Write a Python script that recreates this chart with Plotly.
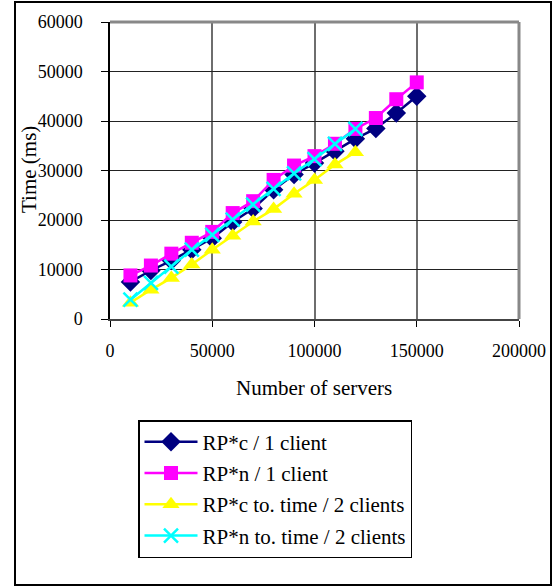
import plotly.graph_objects as go

servers = [10000, 20000, 30000, 40000, 50000, 60000, 70000, 80000, 90000, 100000,
           110000, 120000, 130000, 140000, 150000]
rpc_1 = [7500, 9800, 11800, 14000, 16300, 19600, 22300, 26100, 29200, 31500,
         33900, 36400, 38500, 41600, 45000]
rpn_1 = [8800, 10800, 13200, 15400, 17600, 21400, 23800, 28100, 31000, 32900,
         35400, 38400, 40600, 44400, 47800]
servers2 = servers[:12]
rpc_2 = [3300, 5900, 8300, 11000, 14000, 16800, 19700, 22200, 25300, 28100, 31200, 33700]
rpn_2 = [3900, 7300, 10600, 14000, 17000, 20100, 23100, 26300, 29400, 32300, 35400, 38400]

names = ["RP*c / 1 client", "RP*n / 1 client",
         "RP*c to. time / 2 clients", "RP*n to. time / 2 clients"]
x_ticks = [0, 50000, 100000, 150000, 200000]
y_ticks = [0, 10000, 20000, 30000, 40000, 50000, 60000]

FONT = "'Liberation Serif', 'Times New Roman', Times, 'DejaVu Serif', serif"

fig = go.Figure()
fig.add_trace(go.Scatter(x=servers, y=rpc_1, name=names[0], mode="lines+markers",
                         legendgroup="a",
                         line=dict(color="#000080", width=2.5),
                         marker=dict(symbol="diamond", size=15, color="#000080")))
fig.add_trace(go.Scatter(x=servers, y=rpn_1, name=names[1], mode="lines+markers",
                         legendgroup="b",
                         line=dict(color="#FF00FF", width=2.5),
                         marker=dict(symbol="square", size=14, color="#FF00FF")))
fig.add_trace(go.Scatter(x=servers2, y=rpc_2, name=names[2], mode="lines+markers",
                         legendgroup="c",
                         line=dict(color="#FFFF00", width=2.5),
                         marker=dict(symbol="triangle-up", size=15, color="#FFFF00")))
fig.add_trace(go.Scatter(x=servers2, y=rpn_2, name=names[3], mode="lines+markers",
                         legendgroup="d",
                         line=dict(color="#00FFFF", width=2.5),
                         marker=dict(symbol="x-thin", size=14, color="#00FFFF",
                                     line=dict(color="#00FFFF", width=2.5))))

L, R, T, B = 110, 39, 22, 268
W, H = 558, 587
pw = W - L - R
ph = H - T - B

def px(xp):
    return (xp - L) / pw

def py(yp):
    return (H - B - yp) / ph

fig.update_layout(
    width=W, height=H,
    margin=dict(l=L, r=R, t=T, b=B, autoexpand=False),
    paper_bgcolor="white", plot_bgcolor="white",
    font=dict(family=FONT, size=18, color="black"),
    showlegend=True,
    legend=dict(x=px(138), y=py(420), xanchor="left", yanchor="top",
                bordercolor="black", borderwidth=1.5, bgcolor="white",
                font=dict(family=FONT, size=21, color="black"),
                tracegroupgap=1, itemwidth=53),
    xaxis=dict(range=[0, 200000], tickvals=x_ticks, ticktext=[str(v) for v in x_ticks],
               showgrid=True, gridcolor="#6e6e6e", gridwidth=1.5,
               showline=True, linecolor="#444444", linewidth=2,
               ticks="outside", ticklen=6, tickcolor="black", tickwidth=1,
               ticklabelstandoff=8, zeroline=False,
               tickfont=dict(family=FONT, size=18, color="black")),
    yaxis=dict(range=[0, 60000], tickvals=y_ticks, ticktext=[str(v) for v in y_ticks],
               showgrid=True, gridcolor="#222222", gridwidth=1,
               showline=True, linecolor="black", linewidth=1.5,
               ticks="outside", ticklen=7, tickcolor="black", tickwidth=1,
               ticklabelstandoff=15, zeroline=False,
               tickfont=dict(family=FONT, size=18, color="black")),
    shapes=[
        dict(type="line", xref="paper", yref="paper", x0=0, x1=1, y0=1, y1=1,
             line=dict(color="#888888", width=3), layer="above"),
        dict(type="line", xref="paper", yref="paper", x0=1, x1=1, y0=0, y1=1,
             line=dict(color="#888888", width=3), layer="above"),
        dict(type="rect", xref="paper", yref="paper",
             x0=px(15), x1=px(551), y0=py(2), y1=py(585),
             line=dict(color="black", width=2), layer="below"),
    ],
    annotations=[
        dict(text="Number of servers", xref="paper", yref="paper",
             x=px(314), y=py(388), xanchor="center", yanchor="middle",
             showarrow=False, font=dict(family=FONT, size=21, color="black")),
        dict(text="Time (ms)", xref="paper", yref="paper", textangle=-90,
             x=px(29), y=py(170), xanchor="center", yanchor="middle",
             showarrow=False, font=dict(family=FONT, size=21, color="black")),
    ],
)

fig.write_html("out.html")
